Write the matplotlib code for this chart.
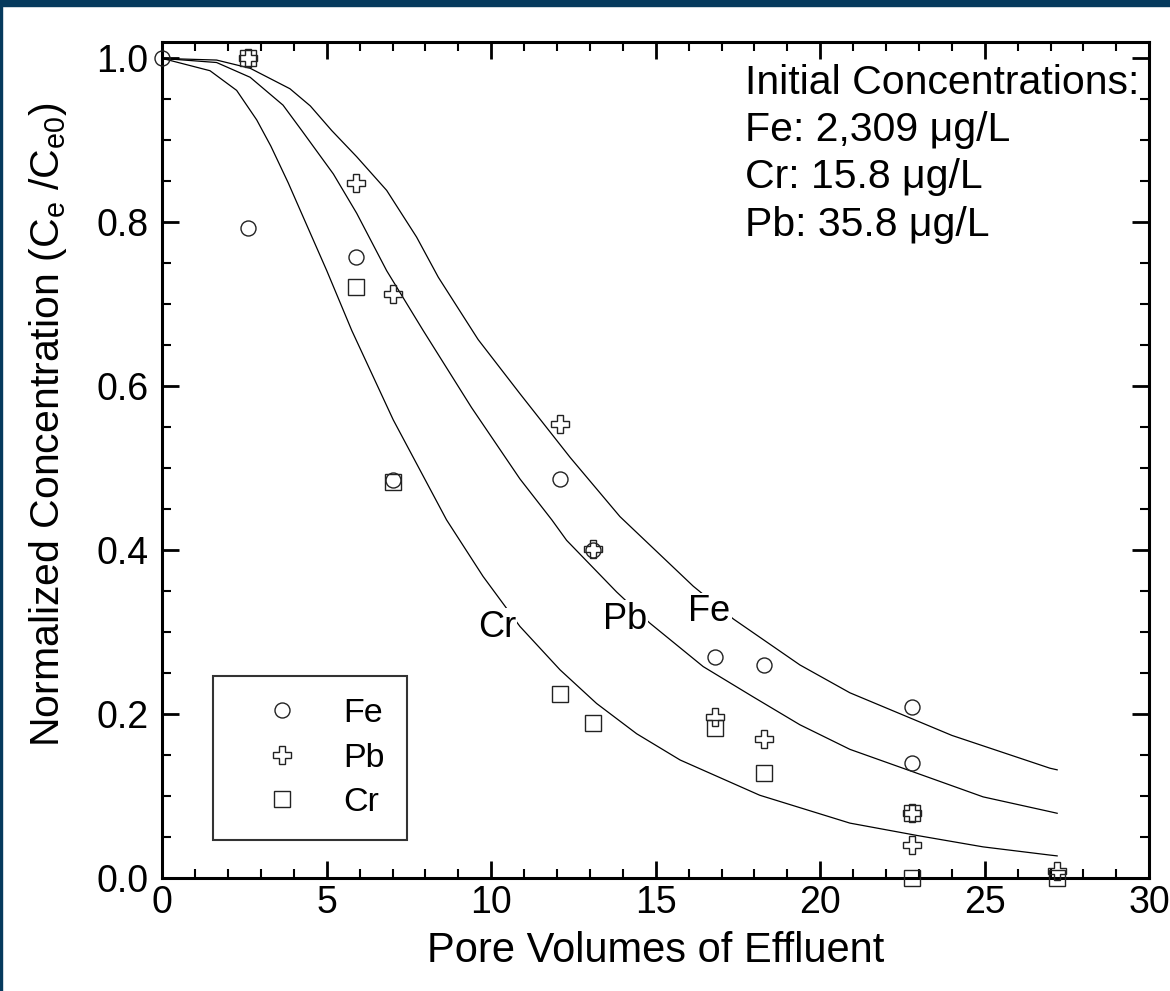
import matplotlib
matplotlib.use("Agg")
import matplotlib.pyplot as plt
from matplotlib.patches import Rectangle
from matplotlib.ticker import MultipleLocator, FormatStrFormatter

plt.rcParams['font.family'] = ['Liberation Sans', 'DejaVu Sans']
plt.rcParams['mathtext.fontset'] = 'custom'
plt.rcParams['mathtext.rm'] = 'Liberation Sans'
plt.rcParams['mathtext.it'] = 'Liberation Sans'

# medidas (puntos)
fe_x = [0, 2.6, 5.9, 7.0, 12.1, 13.1, 16.8, 18.3, 22.8, 22.8]
fe_y = [1.0, 0.793, 0.758, 0.486, 0.487, 0.400, 0.270, 0.260, 0.209, 0.140]
pb_x = [2.6, 5.9, 7.0, 12.1, 13.1, 16.8, 18.3, 22.8, 22.8, 27.2]
pb_y = [1.0, 0.848, 0.713, 0.554, 0.401, 0.197, 0.170, 0.079, 0.040, 0.008]
cr_x = [2.6, 5.9, 7.0, 12.1, 13.1, 16.8, 18.3, 22.8, 22.8, 27.2]
cr_y = [1.0, 0.721, 0.483, 0.225, 0.189, 0.183, 0.128, 0.079, 0.0, 0.0]

# curvas del modelo
fe_cx = [0, 1.65, 2.67, 3.88, 4.5, 5.15, 5.91, 6.82, 7.73, 8.39, 9.6, 10.87, 12.4, 13.91, 16.14, 17.36, 19.38, 20.9, 24.0, 26.98, 27.2]
fe_cy = [1.0, 0.998, 0.988, 0.963, 0.942, 0.912, 0.880, 0.839, 0.782, 0.733, 0.657, 0.591, 0.513, 0.441, 0.356, 0.316, 0.260, 0.226, 0.174, 0.134, 0.132]
pb_cx = [0, 1.65, 2.67, 3.67, 4.24, 5.2, 5.91, 6.82, 7.93, 9.4, 10.87, 11.84, 12.29, 13.81, 14.82, 16.44, 17.96, 19.38, 20.9, 22.93, 24.95, 26.98, 27.2]
pb_cy = [1.0, 0.995, 0.977, 0.943, 0.912, 0.859, 0.811, 0.741, 0.668, 0.574, 0.487, 0.437, 0.412, 0.349, 0.311, 0.258, 0.221, 0.187, 0.157, 0.128, 0.099, 0.081, 0.079]
cr_cx = [0, 1.45, 2.26, 2.87, 3.3, 3.83, 4.19, 5.0, 5.76, 7.02, 8.64, 9.75, 10.87, 12.09, 13.2, 14.42, 15.74, 18.16, 20.9, 22.93, 24.95, 26.98, 27.2]
cr_cy = [1.0, 0.985, 0.961, 0.925, 0.893, 0.848, 0.815, 0.741, 0.668, 0.559, 0.437, 0.368, 0.307, 0.254, 0.213, 0.176, 0.144, 0.101, 0.067, 0.052, 0.038, 0.028, 0.027]

etiquetas = ['Fe', 'Pb', 'Cr']
pos_etiq = [(16.62, 0.325), (14.06, 0.316), (10.17, 0.306)]
texto_ini = ['Initial Concentrations:', 'Fe: 2,309 \u03bcg/L', 'Cr: 15.8 \u03bcg/L', 'Pb: 35.8 \u03bcg/L']

fig = plt.figure(figsize=(11.7, 9.91), dpi=100)
ax = fig.add_axes([0.1387, 0.114, 0.8436, 0.8436])

for cx, cy in [(fe_cx, fe_cy), (pb_cx, pb_cy), (cr_cx, cr_cy)]:
    ax.plot(cx, cy, color='black', lw=0.9, zorder=2)

mk = dict(ls='none', mfc='none', mec='#222222', mew=1.0, clip_on=False, zorder=3)
ax.plot(fe_x, fe_y, marker='o', ms=10.8, label='Fe', **mk)
ax.plot(pb_x, pb_y, marker='P', ms=12.5, label='Pb', **mk)
ax.plot(cr_x, cr_y, marker='s', ms=12.0, label='Cr', **mk)

for et, (tx, ty) in zip(etiquetas, pos_etiq):
    ax.text(tx, ty, et, fontsize=26, ha='center', va='center', zorder=4,
            bbox=dict(facecolor='white', edgecolor='none', pad=1))

for i, t in enumerate(texto_ini):
    ax.text(0.590, 0.951 - 0.0565*i, t, transform=ax.transAxes, fontsize=29.5, ha='left', va='center')

ax.set_xlim(0, 30)
ax.set_ylim(0, 1.02)
ax.xaxis.set_major_locator(MultipleLocator(5))
ax.xaxis.set_minor_locator(MultipleLocator(1))
ax.yaxis.set_major_locator(MultipleLocator(0.2))
ax.yaxis.set_minor_locator(MultipleLocator(0.05))
ax.yaxis.set_major_formatter(FormatStrFormatter('%.1f'))
ax.tick_params(which='both', direction='in', top=True, right=True, labelsize=27)
ax.tick_params(which='major', length=12, width=2)
ax.tick_params(which='minor', length=6.5, width=1.5)
ax.tick_params(axis='x', pad=5)
ax.tick_params(axis='y', pad=10)
for s in ax.spines.values():
    s.set_linewidth(2.2)

ax.set_xlabel('Pore Volumes of Effluent', fontsize=30)
ax.set_ylabel(r'Normalized Concentration (C$_{\rm e}$ /C$_{\rm e0}$)', fontsize=29.5)
ax.xaxis.set_label_coords(0.5, -0.063)
ax.yaxis.set_label_coords(-0.095, 0.542)

leg = ax.legend(loc='lower left', bbox_to_anchor=(0.0517, 0.0455), borderaxespad=0,
                fontsize=24.5, frameon=True, fancybox=False, borderpad=0.64,
                handlelength=2.78, handletextpad=0.4, labelspacing=0.4)
leg.get_frame().set_edgecolor('black')
leg.get_frame().set_linewidth(1.5)

navy = '#063a5d'
fig.add_artist(Rectangle((0, 1 - 5.5/991), 1, 5.5/991, transform=fig.transFigure, color=navy, zorder=10))
fig.add_artist(Rectangle((0, 0), 1.5/1170, 1, transform=fig.transFigure, color=navy, zorder=10))

fig.savefig('out.png', dpi=100)
